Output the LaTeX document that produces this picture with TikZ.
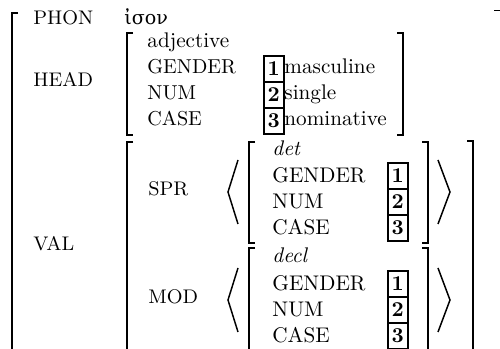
\documentclass[tikz,border=0pt]{standalone}
\usepackage{fontspec}
\newfontfamily\greekfont{DejaVu Serif}
\begin{document}
\begin{tikzpicture}[x=0.472pt,y=-0.472pt,
  br/.style={line width=0.7pt},
  ang/.style={line width=0.7pt},
  lab/.style={anchor=base west,inner sep=0pt,font=\fontsize{9.3}{10}\selectfont},
  ftr/.style={anchor=base west,inner sep=0pt,font=\fontsize{9.5}{11}\selectfont},
  val/.style={anchor=base west,inner sep=0pt,font=\fontsize{10}{12}\selectfont},
  tagbox/.style={draw,line width=0.75pt,inner sep=0pt,minimum width=9.44pt,minimum height=12.27pt,anchor=west,font=\fontsize{10}{12}\selectfont\bfseries}]
\useasboundingbox (0,0) rectangle (500,349);
\clip (0,0) rectangle (500,349);
% outer bracket
\draw[br] (18,13) -- (12,13) -- (12,360);
\draw[br] (494,10.5) -- (501,10.5) -- (501,360);
% PHON
\node[lab] (phon) at (33,25) {PHON};
\node[val,font=\fontsize{9}{10}\selectfont\greekfont] (phonv) at (124,25) {ἰσον};
% HEAD
\node[lab] (head) at (33,87) {HEAD};
\draw[br] (133,33) -- (127,33) -- (127,135) -- (133,135);
\draw[br] (397,33) -- (403,33) -- (403,135) -- (397,135);
\node[val] (adj) at (147,48) {adjective};
\node[ftr] (hg) at (147,74) {GENDER};
\node[ftr] (hn) at (147,100) {NUM};
\node[ftr] (hc) at (147,126) {CASE};
\node[tagbox] (ht1) at (263,69) {1};
\node[tagbox] (ht2) at (263,95) {2};
\node[tagbox] (ht3) at (263,121) {3};
\node[val] (hv1) at (284,74) {masculine};
\node[val] (hv2) at (284,100) {single};
\node[val] (hv3) at (284,126) {nominative};
% VAL
\node[lab] (valn) at (33,251) {VAL};
\draw[br] (133,142) -- (127,142) -- (127,360);
\draw[br] (467,141) -- (473,141) -- (473,360);
% SPR
\node[lab] (spr) at (148,196) {SPR};
\draw[ang] (238,160) -- (228,192) -- (238,224);
\draw[ang] (438,160) -- (450,192) -- (438,224);
\draw[br] (255,142) -- (249,142) -- (249,243) -- (255,243);
\draw[br] (422,142) -- (428,142) -- (428,243) -- (422,243);
\node[val,font=\fontsize{10}{12}\selectfont\itshape] (det) at (272,156) {det};
\node[val] (sg) at (272,183) {GENDER};
\node[val] (sn) at (272,209) {NUM};
\node[val] (sc) at (272,235) {CASE};
\node[tagbox] (st1) at (387,176) {1};
\node[tagbox] (st2) at (387,202) {2};
\node[tagbox] (st3) at (387,228) {3};
% MOD
\node[lab] (mod) at (148,304) {MOD};
\draw[ang] (238,268) -- (228,300) -- (238,332);
\draw[ang] (438,268) -- (450,300) -- (438,332);
\draw[br] (255,248) -- (249,248) -- (249,360);
\draw[br] (422,248) -- (428,248) -- (428,360);
\node[val,font=\fontsize{10}{12}\selectfont\itshape] (decl) at (272,263) {decl};
\node[val] (mg) at (272,291) {GENDER};
\node[val] (mn) at (272,317) {NUM};
\node[val] (mc) at (272,343) {CASE};
\node[tagbox] (mt1) at (387,284) {1};
\node[tagbox] (mt2) at (387,310) {2};
\node[tagbox] (mt3) at (387,336) {3};
\end{tikzpicture}
\end{document}
